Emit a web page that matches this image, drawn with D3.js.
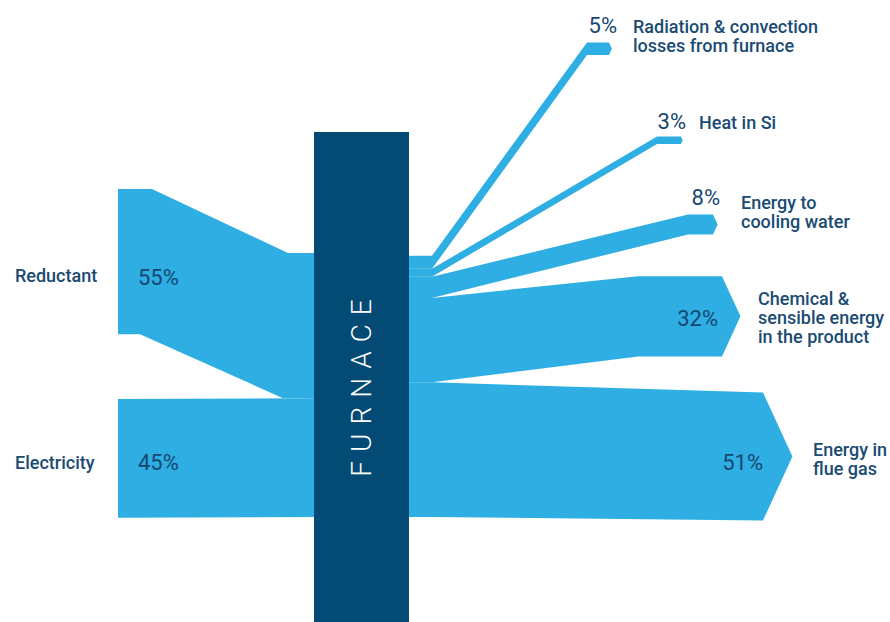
<!DOCTYPE html>
<html>
<head>
<meta charset="utf-8">
<script src="https://cdn.jsdelivr.net/npm/d3@7"></script>
<style>
  html, body { margin: 0; padding: 0; background: #fff; }
  svg { display: block; }
  .name { font-family: Roboto, sans-serif; font-size: 18px; font-weight: 500; fill: #1a4b73; }
  .pct { font-family: Roboto, sans-serif; font-size: 22px; font-weight: 400; fill: #164770; }
</style>
</head>
<body>
<svg id="chart"></svg>
<script>
const width = 890,
  height = 622;

// data
const inputLabels = ["Reductant", "Electricity"];
const inputValues = [55, 45];

const outputLabels = [
  ["Radiation & convection", "losses from furnace"],
  ["Heat in Si"],
  ["Energy to", "cooling water"],
  ["Chemical &", "sensible energy", "in the product"],
  ["Energy in", "flue gas"],
];
const outputValues = [5, 3, 8, 32, 51];

// layout (pixels)
const furnace = { x0: 314, x1: 409, top: 132, bottom: 622 };
const stackBottom = 517;
const inLeft = 118;
const inLeftTop = [189, 399];
const inBend = [
  { topA: 152, topB: 288, botA: 140, botB: 283 },
  null,
];
const inNameY = [282, 469];
const inPctY = [285, 470];
const outJoin = 432;
const outBend = [587, 657, 688, 638, 763];
const outEnd = [609, 681, 713, 722, 763];
const outEndY = [48.7, 140.3, 224.5, 316.3, 456.5];
const pctX = [617, 686, 720, 718, 763];
const pctY = [33, 129, 205, 326, 470];
const nameX = [633, 699, 741, 758, 813];
const nameY = [33, 129, 209, 305, 456];
const lineH = 19;

const svg = d3.select("#chart").attr("width", width).attr("height", height);

// one percentage point -> pixels of band thickness
const k = d3.scaleLinear().domain([0, 100]).range([0, 264]);
const line = d3.line();

const blue = "#2eaee3";

// inputs
const inTotal = d3.sum(inputValues);
let y0 = stackBottom - k(inTotal);
inputValues.forEach((v, i) => {
  const h = k(v);
  const lt = inLeftTop[i];
  const b = inBend[i];
  let pts;
  if (b) {
    pts = [
      [inLeft, lt],
      [b.topA, lt],
      [b.topB, y0],
      [furnace.x0 + 2, y0],
      [furnace.x0 + 2, y0 + h],
      [b.botB, y0 + h],
      [b.botA, lt + h],
      [inLeft, lt + h],
    ];
  } else {
    pts = [
      [inLeft, lt],
      [furnace.x0 + 2, y0],
      [furnace.x0 + 2, y0 + h],
      [inLeft, lt + h],
    ];
  }
  svg.append("path").attr("d", line(pts) + "Z").attr("fill", blue);

  svg
    .append("text")
    .attr("class", "name")
    .attr("x", 15)
    .attr("y", inNameY[i])
    .text(inputLabels[i]);
  svg
    .append("text")
    .attr("class", "pct")
    .attr("x", 138)
    .attr("y", inPctY[i])
    .text(v + "%");
  y0 += h;
});

// outputs
const outTotal = d3.sum(outputValues);
let o0 = stackBottom - k(outTotal);
outputValues.forEach((v, i) => {
  const h = k(v);
  const eh = h * 0.95;
  const et = outEndY[i] - eh / 2;
  const eb = outEndY[i] + eh / 2;
  const tip = eh * 0.23;
  const pts = [
    [furnace.x1 - 2, o0],
    [outJoin, o0],
    [outBend[i], et],
    [outEnd[i], et],
    [outEnd[i] + tip, outEndY[i]],
    [outEnd[i], eb],
    [outBend[i], eb],
    [outJoin, o0 + h],
    [furnace.x1 - 2, o0 + h],
  ];
  svg.append("path").attr("d", line(pts) + "Z").attr("fill", blue);
  o0 += h;

  svg
    .append("text")
    .attr("class", "pct")
    .attr("x", pctX[i])
    .attr("y", pctY[i])
    .attr("text-anchor", "end")
    .text(v + "%");

  const t = svg
    .append("text")
    .attr("class", "name")
    .attr("x", nameX[i])
    .attr("y", nameY[i]);
  outputLabels[i].forEach((s, j) => {
    t.append("tspan")
      .attr("x", nameX[i])
      .attr("dy", j === 0 ? 0 : lineH)
      .text(s);
  });
});

// furnace column
svg
  .append("rect")
  .attr("x", furnace.x0)
  .attr("y", furnace.top)
  .attr("width", furnace.x1 - furnace.x0)
  .attr("height", furnace.bottom - furnace.top)
  .attr("fill", "#034b75");

svg
  .append("text")
  .attr("transform", "translate(" + (furnace.x0 + furnace.x1) / 2 + ",388) rotate(-90)")
  .attr("text-anchor", "middle")
  .attr("dy", "0.35em")
  .attr("dx", 4.5)
  .style("font-family", "Roboto, sans-serif")
  .style("font-weight", 300)
  .style("font-size", "28px")
  .style("letter-spacing", "9px")
  .attr("fill", "#fff")
  .text("FURNACE");
</script>
</body>
</html>
